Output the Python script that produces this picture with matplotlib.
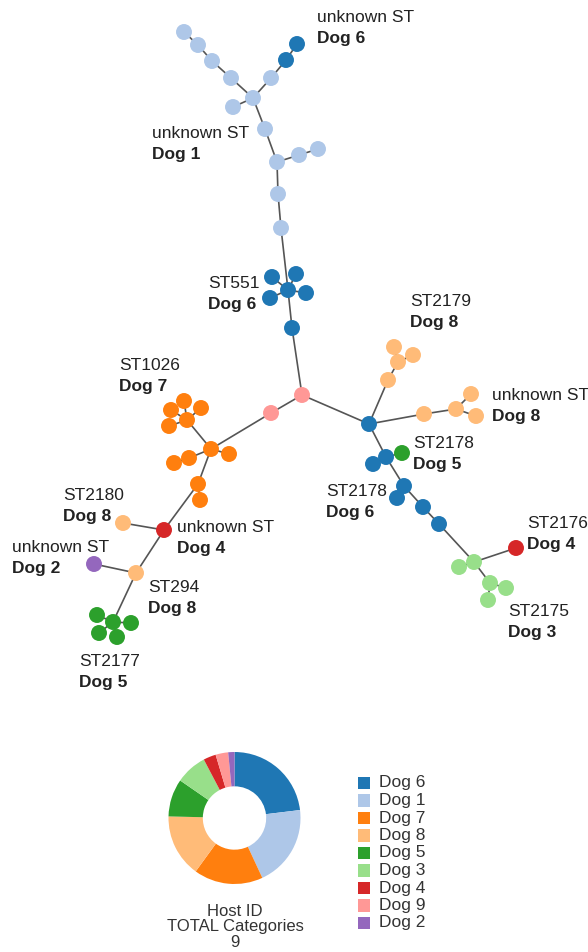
"""Minimum spanning tree of isolates coloured by host, with host-share donut."""

import matplotlib
matplotlib.use("Agg")
import matplotlib.pyplot as plt
import numpy as np

plt.rcParams["font.family"] = ["Liberation Sans", "DejaVu Sans"]

# host palette (tab20 order)
hosts = ["Dog 6", "Dog 1", "Dog 7", "Dog 8", "Dog 5", "Dog 3", "Dog 4", "Dog 9", "Dog 2"]
host_colors = ["#1f77b4", "#aec7e8", "#ff7f0e", "#ffbb78", "#2ca02c",
               "#98df8a", "#d62728", "#ff9896", "#9467bd"]

# layout coordinates of each isolate (x, y in layout units, y downwards) and its host
nodes = {
    # Dog 1 branch
    "a1": (184, 32, "Dog 1"), "a2": (198, 45, "Dog 1"), "a3": (212, 61, "Dog 1"),
    "a4": (231, 78, "Dog 1"), "h1": (253, 98, "Dog 1"), "a5": (233, 107, "Dog 1"),
    "a6": (271, 78, "Dog 1"), "a7": (265, 129, "Dog 1"), "h2": (277, 162, "Dog 1"),
    "a8": (299, 155, "Dog 1"), "a9": (318, 149, "Dog 1"), "a10": (278, 194, "Dog 1"),
    "a11": (281, 228, "Dog 1"),
    "d1": (286, 60, "Dog 6"), "d2": (297, 44, "Dog 6"),
    # ST551
    "s0": (288, 290, "Dog 6"), "s1": (272, 277, "Dog 6"), "s2": (296, 274, "Dog 6"),
    "s3": (270, 298, "Dog 6"), "s4": (306, 293, "Dog 6"), "s5": (292, 328, "Dog 6"),
    # Dog 9 bridge
    "p1": (302, 395, "Dog 9"), "p2": (271, 413, "Dog 9"),
    # right arm
    "b0": (369, 424, "Dog 6"),
    "e1": (388, 380, "Dog 8"), "e2": (398, 362, "Dog 8"), "e3": (394, 347, "Dog 8"),
    "e4": (413, 355, "Dog 8"),
    "f1": (424, 414, "Dog 8"), "f2": (456, 409, "Dog 8"), "f3": (471, 394, "Dog 8"),
    "f4": (476, 416, "Dog 8"),
    "b1": (386, 457, "Dog 6"), "b2": (373, 464, "Dog 6"), "g1": (402, 453, "Dog 5"),
    "b3": (404, 486, "Dog 6"), "b4": (397, 498, "Dog 6"), "b5": (423, 507, "Dog 6"),
    "b6": (439, 524, "Dog 6"),
    "l0": (474, 562, "Dog 3"), "l1": (459, 567, "Dog 3"), "l2": (490, 583, "Dog 3"),
    "l3": (506, 588, "Dog 3"), "l4": (488, 600, "Dog 3"),
    "r2": (516, 548, "Dog 4"),
    # left arm
    "o0": (211, 449, "Dog 7"), "o1": (229, 454, "Dog 7"), "o2": (189, 458, "Dog 7"),
    "o3": (174, 463, "Dog 7"), "c0": (187, 420, "Dog 7"), "c1": (171, 410, "Dog 7"),
    "c2": (184, 401, "Dog 7"), "c3": (201, 408, "Dog 7"), "c4": (169, 426, "Dog 7"),
    "o4": (198, 484, "Dog 7"), "o5": (200, 500, "Dog 7"),
    "r1": (164, 530, "Dog 4"), "k1": (123, 523, "Dog 8"), "k2": (136, 573, "Dog 8"),
    "v1": (94, 564, "Dog 2"),
    "m0": (113, 622, "Dog 5"), "m1": (97, 615, "Dog 5"), "m2": (131, 623, "Dog 5"),
    "m3": (99, 633, "Dog 5"), "m4": (117, 637, "Dog 5"),
}

edges = [
    ("a1", "a2"), ("a2", "a3"), ("a3", "a4"), ("a4", "h1"), ("h1", "a5"),
    ("h1", "a6"), ("a6", "d1"), ("d1", "d2"), ("h1", "a7"), ("a7", "h2"),
    ("h2", "a8"), ("a8", "a9"), ("h2", "a10"), ("a10", "a11"), ("a11", "s0"),
    ("s0", "s1"), ("s0", "s2"), ("s0", "s3"), ("s0", "s4"), ("s0", "s5"),
    ("s5", "p1"), ("p1", "p2"), ("p2", "o0"), ("p1", "b0"),
    ("b0", "e1"), ("e1", "e2"), ("e2", "e3"), ("e2", "e4"),
    ("b0", "f1"), ("f1", "f2"), ("f2", "f3"), ("f2", "f4"),
    ("b0", "b1"), ("b1", "b2"), ("b1", "g1"), ("b1", "b3"), ("b3", "b4"),
    ("b3", "b5"), ("b5", "b6"), ("b6", "l0"), ("l0", "l1"), ("l0", "r2"),
    ("l0", "l2"), ("l2", "l3"), ("l2", "l4"),
    ("o0", "o1"), ("o0", "o2"), ("o2", "o3"), ("o0", "c0"), ("c0", "c1"),
    ("c0", "c2"), ("c0", "c3"), ("c0", "c4"), ("o0", "o4"), ("o4", "o5"),
    ("o4", "r1"), ("r1", "k1"), ("r1", "k2"), ("k2", "v1"), ("k2", "m0"),
    ("m0", "m1"), ("m0", "m2"), ("m0", "m3"), ("m0", "m4"),
]

# cluster annotations: (x, y, sequence type, host)
labels = [
    (317, 18, "unknown ST", "Dog 6"),
    (152, 133, "unknown ST", "Dog 1"),
    (208, 283, "ST551", "Dog 6"),
    (410, 302, "ST2179", "Dog 8"),
    (119, 365, "ST1026", "Dog 7"),
    (492, 395, "unknown ST", "Dog 8"),
    (413, 443, "ST2178", "Dog 5"),
    (326, 491, "ST2178", "Dog 6"),
    (63, 495, "ST2180", "Dog 8"),
    (177, 528, "unknown ST", "Dog 4"),
    (527, 524, "ST2176", "Dog 4"),
    (12, 548, "unknown ST", "Dog 2"),
    (148, 587, "ST294", "Dog 8"),
    (508, 611, "ST2175", "Dog 3"),
    (79, 662, "ST2177", "Dog 5"),
]

W, H = 588, 952
fig = plt.figure(figsize=(W / 100, H / 100), dpi=100)
ax = fig.add_axes([0, 0, 1, 1])
ax.set_xlim(0, W)
ax.set_ylim(H, 0)
ax.axis("off")

cmap = dict(zip(hosts, host_colors))
ink = "#222222"

for u, v in edges:
    ax.plot([nodes[u][0], nodes[v][0]], [nodes[u][1], nodes[v][1]],
            color="#555555", lw=1.2, zorder=1, solid_capstyle="round")

xs = [n[0] for n in nodes.values()]
ys = [n[1] for n in nodes.values()]
cs = [cmap[n[2]] for n in nodes.values()]
ax.scatter(xs, ys, s=132, c=cs, edgecolors="none", zorder=2)

for x, y, st, host in labels:
    ax.text(x, y, st, fontsize=12.5, color=ink, va="center", ha="left")
    ax.text(x, y + 21, host, fontsize=12.5, fontweight="bold", color=ink,
            va="center", ha="left")

# donut of isolate counts per host
counts = [sum(1 for n in nodes.values() if n[2] == h) for h in hosts]
cx, cy, r = 234.5, 818, 66
pax = fig.add_axes([(cx - r) / W, (H - cy - r) / H, 2 * r / W, 2 * r / H])
pax.pie(counts, colors=host_colors, startangle=90, counterclock=False,
        radius=1, wedgeprops=dict(width=0.52, edgecolor="none"))
pax.set_xlim(-1, 1)
pax.set_ylim(-1, 1)

caption = ["Host ID", "TOTAL Categories", str(len(hosts))]
for i, line in enumerate(caption):
    ax.text(235, 911 + i * 15.8, line, fontsize=12,
            ha="center", va="center", color="#333333")

# legend
for i, (h, c) in enumerate(zip(hosts, host_colors)):
    yy = 783 + i * 17.5
    ax.scatter([364], [yy], marker="s", s=76, c=c, edgecolors="none")
    ax.text(379, yy, h, fontsize=12.5, ha="left", va="center", color="#333333")

fig.savefig("out.png", dpi=100)
